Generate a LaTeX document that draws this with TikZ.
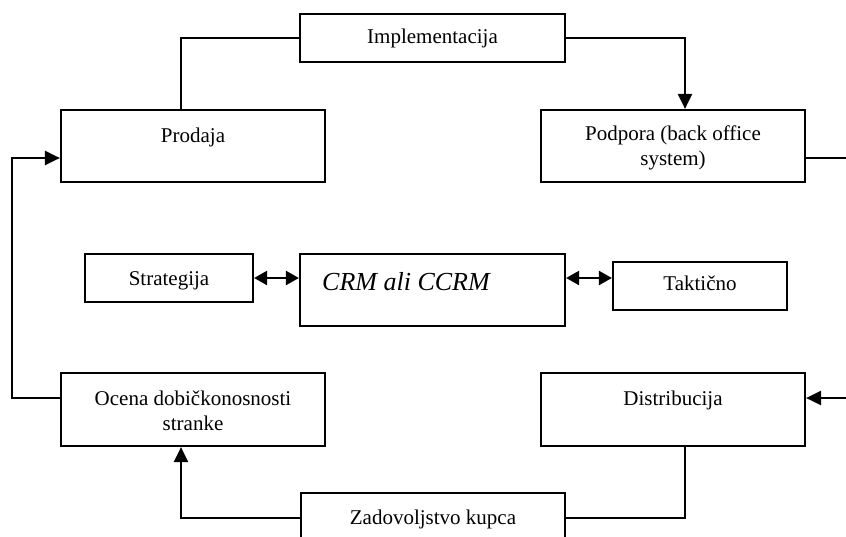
\documentclass[tikz,border=0pt]{standalone}
\usepackage{fontspec}
\setmainfont{Liberation Serif}
\usetikzlibrary{arrows.meta}
\begin{document}
\begin{tikzpicture}[x=1pt,y=1pt,
  ebox/.style={draw=black, line width=2.2pt, rectangle, inner sep=0pt, minimum width=264pt, minimum height=72pt},
  lbl/.style={anchor=base, inner sep=0pt, align=center, font=\fontsize{21}{25}\selectfont},
  conn/.style={line width=2.2pt},
  arr/.style={line width=2.2pt, -{Triangle[length=15pt,width=14pt]}},
  dbl/.style={line width=2.2pt, {Triangle[length=13pt,width=14pt]}-{Triangle[length=13pt,width=14pt]}}]
\useasboundingbox (0,0) rectangle (846,-536);
% boxes
\node[ebox, minimum width=265pt, minimum height=48pt] (impl) at (432.5,-38) {};
\node[ebox] (prodaja) at (193,-146) {};
\node[ebox] (podpora) at (673,-146) {};
\node[ebox, minimum width=168pt, minimum height=48pt] (strat) at (169,-278) {};
\node[ebox, minimum width=265pt] (crm) at (432.5,-290) {};
\node[ebox, minimum width=174pt, minimum height=48pt] (takt) at (700,-286) {};
\node[ebox, minimum height=73pt] (ocena) at (193,-409.5) {};
\node[ebox, minimum height=73pt] (distr) at (673,-409.5) {};
\node[ebox] (zad) at (433,-529) {};
% labels
\node[lbl] (implT) at (432.5,-43) {Implementacija};
\node[lbl] (prodajaT) at (193,-142) {Prodaja};
\node[lbl] (podporaT) at (673,-165) {Podpora (back office\\system)};
\node[lbl] (stratT) at (169,-285) {Strategija};
\node[anchor=base west, inner sep=0pt, font=\fontsize{26}{30}\selectfont\itshape] (crmT) at (322,-290) {CRM ali CCRM};
\node[lbl] (taktT) at (700,-290) {Taktično};
\node[lbl] (ocenaT) at (193,-430) {Ocena dobičkonosnosti\\stranke};
\node[lbl] (distrT) at (673,-405) {Distribucija};
\node[lbl] (zadT) at (433,-524) {Zadovoljstvo kupca};
% connectors
\draw[conn] ([xshift=-12pt]prodaja.north) |- (impl.west);
\draw[arr] (impl.east) -| ([xshift=12pt]podpora.north);
\draw[arr] ([yshift=-12pt]podpora.east) -- ++(60,0) |- ([yshift=11.5pt]distr.east);
\draw[conn] ([xshift=12pt]distr.south) |- ([yshift=11pt]zad.east);
\draw[arr] ([yshift=11pt]zad.west) -| ([xshift=-12pt]ocena.south);
\draw[arr] ([yshift=11.5pt]ocena.west) -- ++(-48,0) |- ([yshift=-12pt]prodaja.west);
\draw[dbl] (strat.east) -- (strat.east -| crm.west);
\draw[dbl] (crm.east |- strat.east) -- (takt.west |- strat.east);
\end{tikzpicture}
\end{document}
